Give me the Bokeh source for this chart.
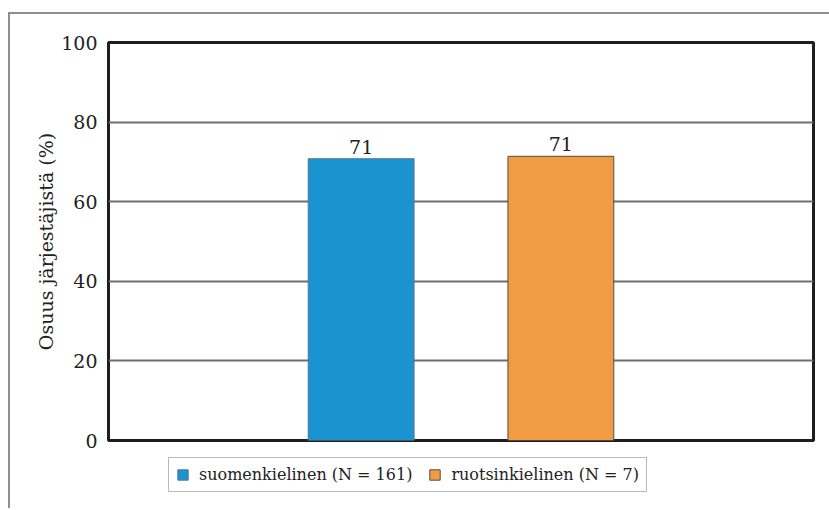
from bokeh.plotting import figure
from bokeh.layouts import column
from bokeh.models import Range1d, ColumnDataSource, Legend, LegendItem, FixedTicker
from bokeh.core.properties import value
from bokeh.embed import file_html
from bokeh.resources import INLINE

categories = ["suomenkielinen (N = 161)", "ruotsinkielinen (N = 7)"]
positions = [1, 2]
values = [70.8, 71.4]
labels = ["71", "71"]
colors = ["#1c93d1", "#f09c45"]
outlines = ["#55788f", "#5a4a3c"]
yticks = [0, 20, 40, 60, 80, 100]

FONT = "DejaVu Serif"
TXT = "#222222"

p = figure(width=819, height=436, output_backend="svg", toolbar_location=None,
           x_range=Range1d(-0.265, 3.265), y_range=Range1d(0, 100),
           min_border_left=98, min_border_right=16, min_border_top=28,
           min_border_bottom=10)

p.xaxis.visible = False
p.yaxis.ticker = FixedTicker(ticks=yticks)
p.yaxis.axis_line_color = None
p.yaxis.major_tick_line_color = None
p.yaxis.minor_tick_line_color = None
p.yaxis.major_label_text_font = FONT
p.yaxis.major_label_text_font_size = "19px"
p.yaxis.major_label_text_color = TXT
p.yaxis.major_label_standoff = 5
p.yaxis.axis_label = "Osuus järjestäjistä (%)"
p.yaxis.axis_label_text_font = FONT
p.yaxis.axis_label_text_font_size = "19px"
p.yaxis.axis_label_text_font_style = "normal"
p.yaxis.axis_label_text_color = TXT
p.yaxis.axis_label_standoff = 1

p.xgrid.grid_line_color = None
p.ygrid.ticker = FixedTicker(ticks=[20, 40, 60, 80])
p.ygrid.grid_line_color = "#6e6e6e"
p.ygrid.grid_line_width = 2

p.outline_line_color = "#1e1e1e"
p.outline_line_width = 3
p.outline_line_alpha = 1

# legend strip below the chart (its own figure so the legend is not clipped)
pl = figure(width=819, height=58, output_backend="svg", toolbar_location=None,
            x_range=Range1d(1000, 1705), y_range=Range1d(1000, 1058),
            x_axis_location=None, y_axis_location=None,
            min_border_left=98, min_border_right=16, min_border_top=0,
            min_border_bottom=0)
pl.grid.grid_line_color = None
pl.outline_line_color = None

items = []
for i in range(2):
    src = ColumnDataSource(dict(x=[positions[i]], top=[values[i]], lab=[labels[i]]))
    p.vbar(x="x", top="top", width=0.53, bottom=0, source=src,
           fill_color=colors[i], line_color=outlines[i], line_width=1)
    p.text(x="x", y="top", text="lab", source=src, text_align="center",
           text_baseline="alphabetic", y_offset=-12, text_font=value(FONT),
           text_font_size="19px", text_color=TXT)
    # same series in the legend strip (outside its visible ranges, only the legend swatch shows)
    rl = pl.vbar(x="x", top="top", width=0.53, bottom=0, source=src,
                 fill_color=colors[i], line_color=outlines[i], line_width=1)
    items.append(LegendItem(label=categories[i], renderers=[rl]))

legend = Legend(items=items, orientation="horizontal", location=(60, 16))
legend.label_text_font = FONT
legend.label_text_font_size = "16px"
legend.label_text_color = TXT
legend.glyph_width = 13
legend.glyph_height = 13
legend.label_standoff = 10
legend.spacing = 16
legend.padding = 7
legend.margin = 0
legend.border_line_color = "#777777"
legend.border_line_width = 1
legend.background_fill_alpha = 1
pl.add_layout(legend, "center")

layout = column(p, pl, spacing=0)
layout.styles = {"border-top": "2px solid #8e8e8e", "border-left": "2px solid #8e8e8e",
                 "margin-top": "12px", "margin-left": "8px"}

open("out.html", "w").write(file_html(layout, INLINE))
